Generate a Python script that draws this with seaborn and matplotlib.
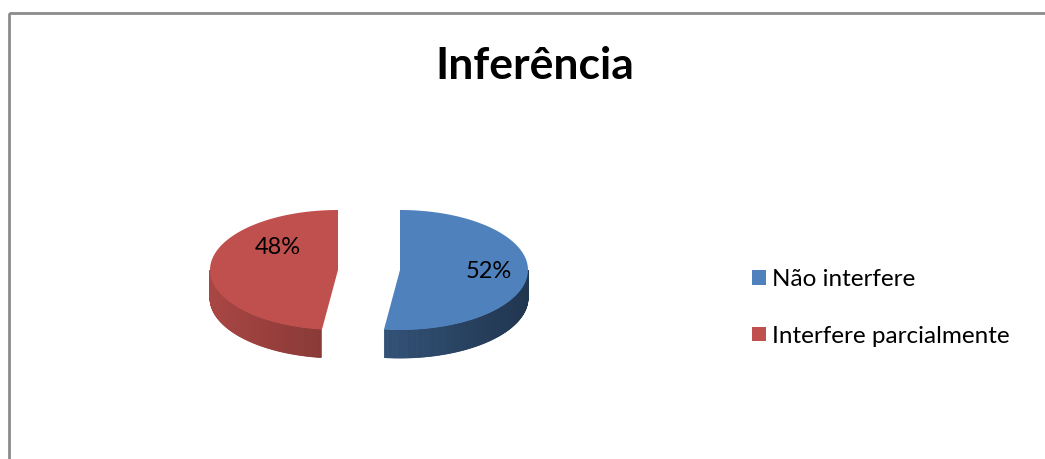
import numpy as np
import matplotlib
matplotlib.use("Agg")
import matplotlib.pyplot as plt
from matplotlib.patches import Polygon, Patch, Rectangle
import seaborn as sns

sns.set_theme(style="white")
plt.rcParams['font.family'] = ['Lato', 'DejaVu Sans']
plt.rcParams['text.color'] = 'black'

# data
categories = ['Não interfere', 'Interfere parcialmente']
values = [52, 48]
colors = ['#4F81BD', '#C0504D']
title = 'Inferência'

W, H = 1045, 459
fig = plt.figure(figsize=(W / 100, H / 100), dpi=100)
ax = fig.add_axes([0, 0, 1, 1])
ax.set_xlim(0, W)
ax.set_ylim(H, 0)
ax.axis('off')

# chart frame
ax.add_patch(Rectangle((9, 13), W, H, fill=False, edgecolor='#8c8c8c', lw=2))

# pseudo 3d pie layout
cx, cy = 400, 270
rx, ry = 128, 60
depth = 28
explode = [0, 62]          # horizontal shift of each slice (px)
label_pos = [(489, 272), (278, 247)]
x_left, x_right = cx - explode[1] - rx, cx + rx


def shade(c, f):
    rgb = np.array(matplotlib.colors.to_rgb(c))
    return tuple(rgb * f)


def light(x):
    t = (x - x_left) / (x_right - x_left)
    return 0.88 - 0.46 * t


def pt(x0, th):
    return x0 + rx * np.cos(th), cy - ry * np.sin(th)


start = 90.0
total = sum(values)
for val, col, ex, lp in zip(values, colors, explode, label_pos):
    sweep = 360.0 * val / total
    a0, a1 = start - sweep, start   # clockwise from top
    x0 = cx - ex
    th = np.radians(np.linspace(a0, a1, 200))

    # outer rim, visible front half only
    lo = np.radians(a0)
    hi = np.radians(a1)
    rim = np.radians(np.linspace(0, 360, 721)) - np.pi * 2
    rim = np.concatenate([rim, rim + 2 * np.pi])
    vis = rim[(rim >= lo) & (rim <= hi) & (np.sin(rim) <= 0)]
    for i in range(len(vis) - 1):
        xa, ya = pt(x0, vis[i])
        xb, yb = pt(x0, vis[i + 1])
        f = light((xa + xb) / 2)
        ax.add_patch(Polygon([(xa, ya), (xb, yb), (xb, yb + depth), (xa, ya + depth)],
                             closed=True, facecolor=shade(col, f), edgecolor=shade(col, f), lw=0.6))

    # front cut face (seen for the left slice)
    if ex > 0:
        xe, ye = pt(x0, np.radians(a0))
        ax.add_patch(Polygon([(x0, cy), (xe, ye), (xe, ye + depth), (x0, cy + depth)],
                             closed=True, facecolor=shade(col, 0.8), edgecolor='none'))

    # top face
    xs = x0 + rx * np.cos(th)
    ys = cy - ry * np.sin(th)
    ax.add_patch(Polygon(np.column_stack([np.r_[x0, xs], np.r_[cy, ys]]),
                         closed=True, facecolor=col, edgecolor='none'))

    ax.text(lp[0], lp[1], f'{val}%', fontsize=17, ha='center', va='center', color='black')
    start = a0

ax.text(535, 66, title, fontsize=32, fontweight='bold', ha='center', va='center', color='black')

handles = [Patch(facecolor=c, edgecolor='none') for c in colors]
leg = ax.legend(handles, categories, loc='center left', bbox_to_anchor=(740 / W, 1 - 308 / H),
                frameon=False, fontsize=17.5, handlelength=0.55, handleheight=0.55,
                handletextpad=0.25, labelspacing=1.45, borderpad=0)
for t in leg.get_texts():
    t.set_color('black')

fig.savefig('out.png', dpi=100)
